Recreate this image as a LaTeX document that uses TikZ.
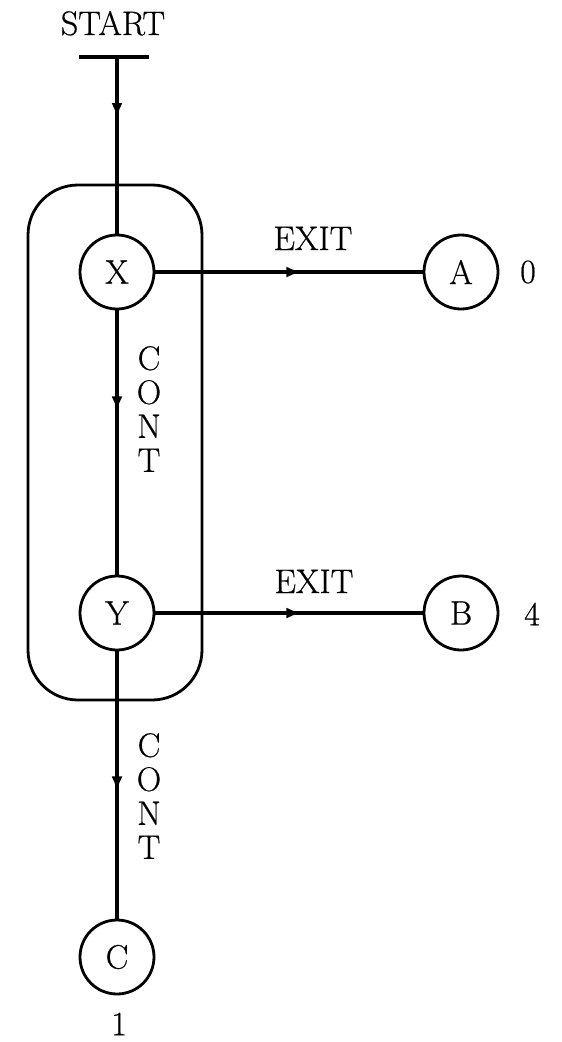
\documentclass[tikz,border=0pt]{standalone}
\usepackage{fontspec}
\newfontfamily\diagfont{Latin Modern Roman}[FakeBold=0.6]
\usetikzlibrary{decorations.markings,arrows.meta}
\begin{document}
\begin{tikzpicture}[x=1pt,y=-1pt,
  font=\diagfont\fontsize{34}{34}\selectfont,
  state/.style={circle,draw,line width=2.8pt,minimum size=74pt,inner sep=0pt},
  conn/.style={line width=3.4pt},
  midarrow/.style={postaction={decorate},decoration={markings,
    mark=at position #1 with {\arrow{Latex[length=15pt,width=11pt]}}}},
  lbl/.style={inner sep=0pt}]
\useasboundingbox (0,0) rectangle (562,1042);
% nodes
\node[state] (X) at (117,272) {X};
\node[state] (Y) at (117,613) {Y};
\node[state] (C) at (117,957) {C};
\node[state] (A) at (461,272) {A};
\node[state] (B) at (461,613) {B};
\node[draw,line width=2.8pt,rounded corners=50pt,minimum width=174pt,minimum height=515pt,inner sep=0pt] (box) at (115,442.5) {};
% start
\node[lbl,anchor=base] (start) at (113,35) {START};
\coordinate (sl) at (79,57);
\coordinate (sr) at (149,57);
\coordinate (s) at (117,57);
\draw[line width=4.5pt] (sl) -- (sr);
% connectors
\draw[conn,midarrow=61pt] (s) -- (X);
\draw[conn,midarrow=101pt] (X) -- (Y);
\draw[conn,midarrow=140pt] (Y) -- (C);
\draw[conn,midarrow=146pt] (X) -- (A);
\draw[conn,midarrow=146pt] (Y) -- (B);
% labels
\node[lbl,anchor=base] (exit1) at (313,250) {EXIT};
\node[lbl,anchor=base] (exit2) at (314,593) {EXIT};
\node[lbl,align=center] (cont1) at (149,409) {C\\O\\N\\T};
\node[lbl,align=center] (cont2) at (149,796) {C\\O\\N\\T};
\node[lbl] (v0) at (528,272) {0};
\node[lbl] (v4) at (532,614) {4};
\node[lbl] (v1) at (119,1024) {1};
\end{tikzpicture}
\end{document}
